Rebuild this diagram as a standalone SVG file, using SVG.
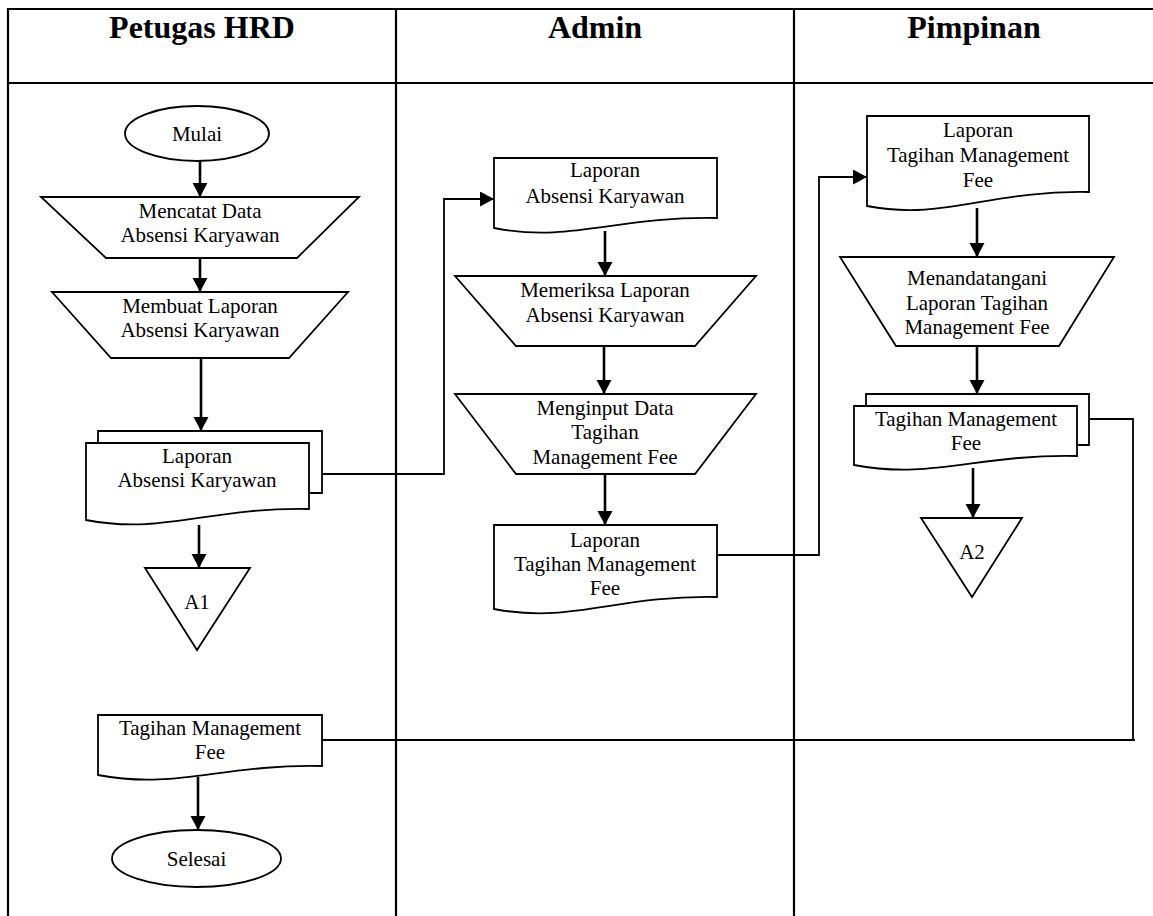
<svg xmlns="http://www.w3.org/2000/svg" width="1153" height="916" viewBox="0 0 1153 916">
<style>
.grid{stroke:#000;stroke-width:2.2;fill:none}
.shape{fill:#fff;stroke:#000;stroke-width:1.8}
.t{font-family:"Liberation Serif","Times New Roman",serif;font-size:21px;text-anchor:middle;fill:#000}
.h{font-family:"Liberation Serif","Times New Roman",serif;font-size:32px;font-weight:bold;text-anchor:middle;fill:#000}
.arr{stroke:#000;stroke-width:2.6;fill:none;marker-end:url(#ah)}
.con{stroke:#000;stroke-width:1.8;fill:none}
.cona{stroke:#000;stroke-width:1.8;fill:none;marker-end:url(#ah)}
</style>
<defs>
<marker id="ah" markerUnits="userSpaceOnUse" markerWidth="16" markerHeight="16" refX="14" refY="7.5" orient="auto">
<path d="M0,0 L14,7.5 L0,15 z" fill="#000"/>
</marker>
</defs>
<rect width="1153" height="916" fill="#fff"/>
<g id="table">
<line class="grid" x1="8" y1="9" x2="1153" y2="9"/>
<line class="grid" x1="8" y1="83" x2="1153" y2="83"/>
<line class="grid" x1="8" y1="8" x2="8" y2="916"/>
<line class="grid" x1="396" y1="9" x2="396" y2="916"/>
<line class="grid" x1="794" y1="9" x2="794" y2="916"/>
<text class="h" x="202" y="38">Petugas HRD</text>
<text class="h" x="595" y="38">Admin</text>
<text class="h" x="974" y="38">Pimpinan</text>
</g>
<g id="connectors">
<path class="arr" d="M200,161 V197"/>
<path class="arr" d="M200,258 V292"/>
<path class="arr" d="M201,358 V431"/>
<path class="arr" d="M199,525 V568"/>
<path class="cona" d="M322,474 H444 V199 H494"/>
<path class="arr" d="M605,231 V276"/>
<path class="arr" d="M604,346 V394"/>
<path class="arr" d="M605,474 V525"/>
<path class="cona" d="M717,555 H819 V177 H867"/>
<path class="arr" d="M977,208 V257"/>
<path class="arr" d="M977,346 V394"/>
<path class="arr" d="M973,468 V518"/>
<path class="con" d="M1089,419 H1133 V740 H322"/>
<path class="con" d="M1133,740 H1135"/>
<path class="arr" d="M198,777 V830"/>
</g>
<g id="mulai">
<ellipse class="shape" cx="197" cy="133.5" rx="72" ry="27.5"/>
<text class="t" x="197" y="141">Mulai</text>
</g>
<g id="mencatat">
<polygon class="shape" points="41,197 359,197 297,258 106,258"/>
<text class="t" x="200" y="218">Mencatat Data</text>
<text class="t" x="200" y="242">Absensi Karyawan</text>
</g>
<g id="membuat">
<polygon class="shape" points="52,292 348,292 289,358 111,358"/>
<text class="t" x="200" y="313">Membuat Laporan</text>
<text class="t" x="200" y="337">Absensi Karyawan</text>
</g>
<g id="laporan-hrd">
<path class="shape" d="M98,443 V431 H322 V493 H309"/>
<path class="shape" d="M86,443 H309 V509 C209,507 164,535 86,520 Z"/>
<text class="t" x="197" y="463">Laporan</text>
<text class="t" x="197" y="487">Absensi Karyawan</text>
</g>
<g id="a1">
<polygon class="shape" points="145,568 250,568 197,650"/>
<text class="t" x="197" y="609">A1</text>
</g>
<g id="tagihan-hrd">
<path class="shape" d="M98,715 H322 V766 C222,764 177,790 98,775 Z"/>
<text class="t" x="210" y="735">Tagihan Management</text>
<text class="t" x="210" y="759">Fee</text>
</g>
<g id="selesai">
<ellipse class="shape" cx="196.5" cy="858.5" rx="84.5" ry="28.5"/>
<text class="t" x="196.5" y="866">Selesai</text>
</g>
<g id="laporan-admin">
<path class="shape" d="M494,158 H717 V218 C617,216 572,243 494,228 Z"/>
<text class="t" x="605" y="177">Laporan</text>
<text class="t" x="605" y="203">Absensi Karyawan</text>
</g>
<g id="memeriksa">
<polygon class="shape" points="455,276 756,276 695,346 516,346"/>
<text class="t" x="605" y="297">Memeriksa Laporan</text>
<text class="t" x="605" y="322">Absensi Karyawan</text>
</g>
<g id="menginput">
<polygon class="shape" points="455,394 756,394 695,474 516,474"/>
<text class="t" x="605" y="415">Menginput Data</text>
<text class="t" x="605" y="439">Tagihan</text>
<text class="t" x="605" y="464">Management Fee</text>
</g>
<g id="laporan-tagihan-admin">
<path class="shape" d="M494,525 H717 V597 C617,595 572,624 494,609 Z"/>
<text class="t" x="605" y="547">Laporan</text>
<text class="t" x="605" y="571">Tagihan Management</text>
<text class="t" x="605" y="595">Fee</text>
</g>
<g id="laporan-tagihan-pimpinan">
<path class="shape" d="M867,116 H1089 V192 C989,190 944,221 867,206 Z"/>
<text class="t" x="978" y="137">Laporan</text>
<text class="t" x="978" y="162">Tagihan Management</text>
<text class="t" x="978" y="187">Fee</text>
</g>
<g id="menandatangani">
<polygon class="shape" points="840,257 1114,257 1059,346 896,346"/>
<text class="t" x="977" y="285">Menandatangani</text>
<text class="t" x="977" y="310">Laporan Tagihan</text>
<text class="t" x="977" y="334">Management Fee</text>
</g>
<g id="tagihan-pimpinan">
<path class="shape" d="M866,406 V394 H1089 V445 H1077"/>
<path class="shape" d="M854,406 H1077 V456 C977,454 932,480 854,465 Z"/>
<text class="t" x="966" y="426">Tagihan Management</text>
<text class="t" x="966" y="450">Fee</text>
</g>
<g id="a2">
<polygon class="shape" points="921,518 1022,518 972,597"/>
<text class="t" x="972" y="559">A2</text>
</g>
</svg>
